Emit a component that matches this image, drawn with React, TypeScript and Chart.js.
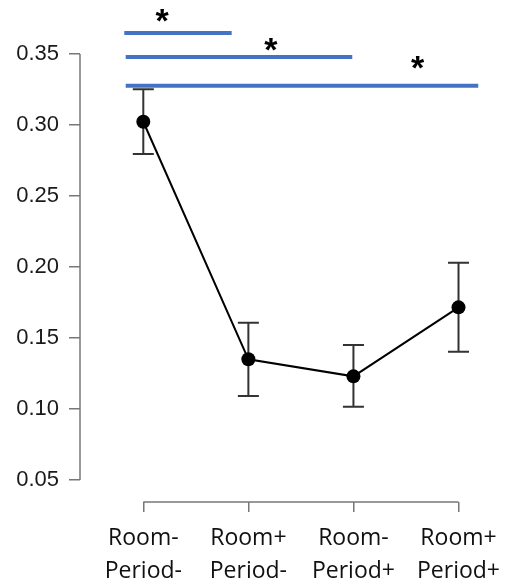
import React, { useEffect, useRef } from "react";
import { Chart, registerables } from "chart.js";

Chart.register(...registerables);

// ---- data ----
const categories: string[][] = [
  ["Room-", "Period-"],
  ["Room+", "Period-"],
  ["Room-", "Period+"],
  ["Room+", "Period+"],
];
const positions = [1, 2, 3, 4];
const means = [0.3023, 0.135, 0.123, 0.1716];
const upper = [0.3251, 0.1608, 0.1451, 0.203];
const lower = [0.2796, 0.1092, 0.1016, 0.1404];
const yTicks = [0.05, 0.1, 0.15, 0.2, 0.25, 0.3, 0.35];

// significance brackets
const compareFrom = [0.819, 0.8325, 0.8325];
const compareTo = [1.841, 2.989, 4.188];
const compareY = [0.3648, 0.3479, 0.3277];
const starX = [1.178, 2.2135, 3.61];
const starY = [0.3769, 0.3569, 0.344];
const starText = ["*", "*", "*"];

const X_MIN = 0.3975;
const X_MAX = 4.452;
const Y_MIN = 0.03451;
const Y_MAX = 0.38803;

const AXIS_COLOR = "#777777";

const axisPlugin = {
  id: "customAxesAndErrors",
  beforeDatasetsDraw(chart: any) {
    const { ctx, scales, chartArea } = chart;
    const xs = scales.x;
    const ys = scales.y;
    ctx.save();
    ctx.strokeStyle = AXIS_COLOR;
    ctx.lineWidth = 1.5;
    ctx.beginPath();
    ctx.moveTo(chartArea.left, ys.getPixelForValue(yTicks[0]));
    ctx.lineTo(chartArea.left, ys.getPixelForValue(yTicks[yTicks.length - 1]));
    ctx.stroke();
    ctx.beginPath();
    ctx.moveTo(xs.getPixelForValue(positions[0]), chartArea.bottom);
    ctx.lineTo(xs.getPixelForValue(positions[positions.length - 1]), chartArea.bottom);
    ctx.stroke();

    // error bars
    ctx.strokeStyle = "#333333";
    ctx.lineWidth = 2;
    const cap = 10.5;
    positions.forEach((p, i) => {
      const px = xs.getPixelForValue(p);
      const pt = ys.getPixelForValue(upper[i]);
      const pb = ys.getPixelForValue(lower[i]);
      ctx.beginPath();
      ctx.moveTo(px, pt);
      ctx.lineTo(px, pb);
      ctx.moveTo(px - cap, pt);
      ctx.lineTo(px + cap, pt);
      ctx.moveTo(px - cap, pb);
      ctx.lineTo(px + cap, pb);
      ctx.stroke();
    });
    ctx.restore();
  },
  afterDraw(chart: any) {
    const { ctx, scales } = chart;
    const xs = scales.x;
    const ys = scales.y;
    ctx.save();
    ctx.fillStyle = "#000000";
    ctx.font = 'bold 34px "Liberation Sans", Arial, sans-serif';
    ctx.textAlign = "center";
    ctx.textBaseline = "alphabetic";
    starText.forEach((t, i) => {
      const m = ctx.measureText(t);
      const cx = xs.getPixelForValue(starX[i]);
      const cy = ys.getPixelForValue(starY[i]);
      const base = cy + (m.actualBoundingBoxAscent - m.actualBoundingBoxDescent) / 2;
      ctx.fillText(t, cx, base);
    });
    ctx.restore();
  },
};

export default function App() {
  const canvasRef = useRef<HTMLCanvasElement | null>(null);

  useEffect(() => {
    if (!canvasRef.current) return;
    const datasets: any[] = [
      {
        label: "mean",
        data: positions.map((x, i) => ({ x, y: means[i] })),
        borderColor: "#000000",
        backgroundColor: "#000000",
        borderWidth: 2,
        pointRadius: 7,
        pointHoverRadius: 7,
        pointBorderWidth: 0,
        pointBackgroundColor: "#000000",
        tension: 0,
        clip: false,
        order: 1,
      },
    ];
    compareY.forEach((y, i) => {
      datasets.push({
        label: "cmp" + i,
        data: [
          { x: compareFrom[i], y },
          { x: compareTo[i], y },
        ],
        borderColor: "#4472C4",
        borderWidth: 4,
        pointRadius: 0,
        pointHoverRadius: 0,
        borderCapStyle: "butt",
        clip: false,
        order: 2,
      });
    });

    const chart = new Chart(canvasRef.current, {
      type: "line",
      data: { datasets },
      options: {
        responsive: false,
        animation: false,
        devicePixelRatio: 1,
        layout: { padding: 0, autoPadding: false },
        plugins: {
          legend: { display: false },
          tooltip: { enabled: false },
        },
        scales: {
          x: {
            type: "linear",
            min: X_MIN,
            max: X_MAX,
            afterBuildTicks: (scale: any) => {
              scale.ticks = positions.map((v) => ({ value: v }));
            },
            afterFit: (scale: any) => {
              scale.height = 83;
              scale.paddingLeft = 0;
              scale.paddingRight = 0;
            },
            ticks: {
              autoSkip: false,
              maxRotation: 0,
              minRotation: 0,
              padding: 10,
              color: "#111111",
              font: { family: '"Open Sans", sans-serif', size: 23, lineHeight: 1.435 },
              callback: (v: any) => {
                const idx = positions.indexOf(Number(v));
                return idx >= 0 ? categories[idx] : "";
              },
            },
            grid: {
              drawOnChartArea: false,
              drawTicks: true,
              tickLength: 10,
              color: AXIS_COLOR,
              lineWidth: 1.5,
            },
            border: { display: false },
          },
          y: {
            type: "linear",
            min: Y_MIN,
            max: Y_MAX,
            afterBuildTicks: (scale: any) => {
              scale.ticks = yTicks.map((v) => ({ value: v }));
            },
            afterFit: (scale: any) => {
              scale.width = 80;
              scale.paddingTop = 0;
              scale.paddingBottom = 0;
            },
            ticks: {
              padding: 10,
              color: "#1a1a1a",
              font: { family: '"Liberation Sans", Arial, sans-serif', size: 22 },
              callback: (v: any) => Number(v).toFixed(2),
            },
            grid: {
              drawOnChartArea: false,
              drawTicks: true,
              tickLength: 11,
              color: AXIS_COLOR,
              lineWidth: 1.5,
            },
            border: { display: false },
          },
        },
      },
      plugins: [axisPlugin],
    });
    return () => chart.destroy();
  }, []);

  return (
    <div style={{ position: "absolute", left: 0, top: 0, width: 506, height: 585, background: "#ffffff" }}>
      <canvas ref={canvasRef} width={506} height={585} />
    </div>
  );
}
